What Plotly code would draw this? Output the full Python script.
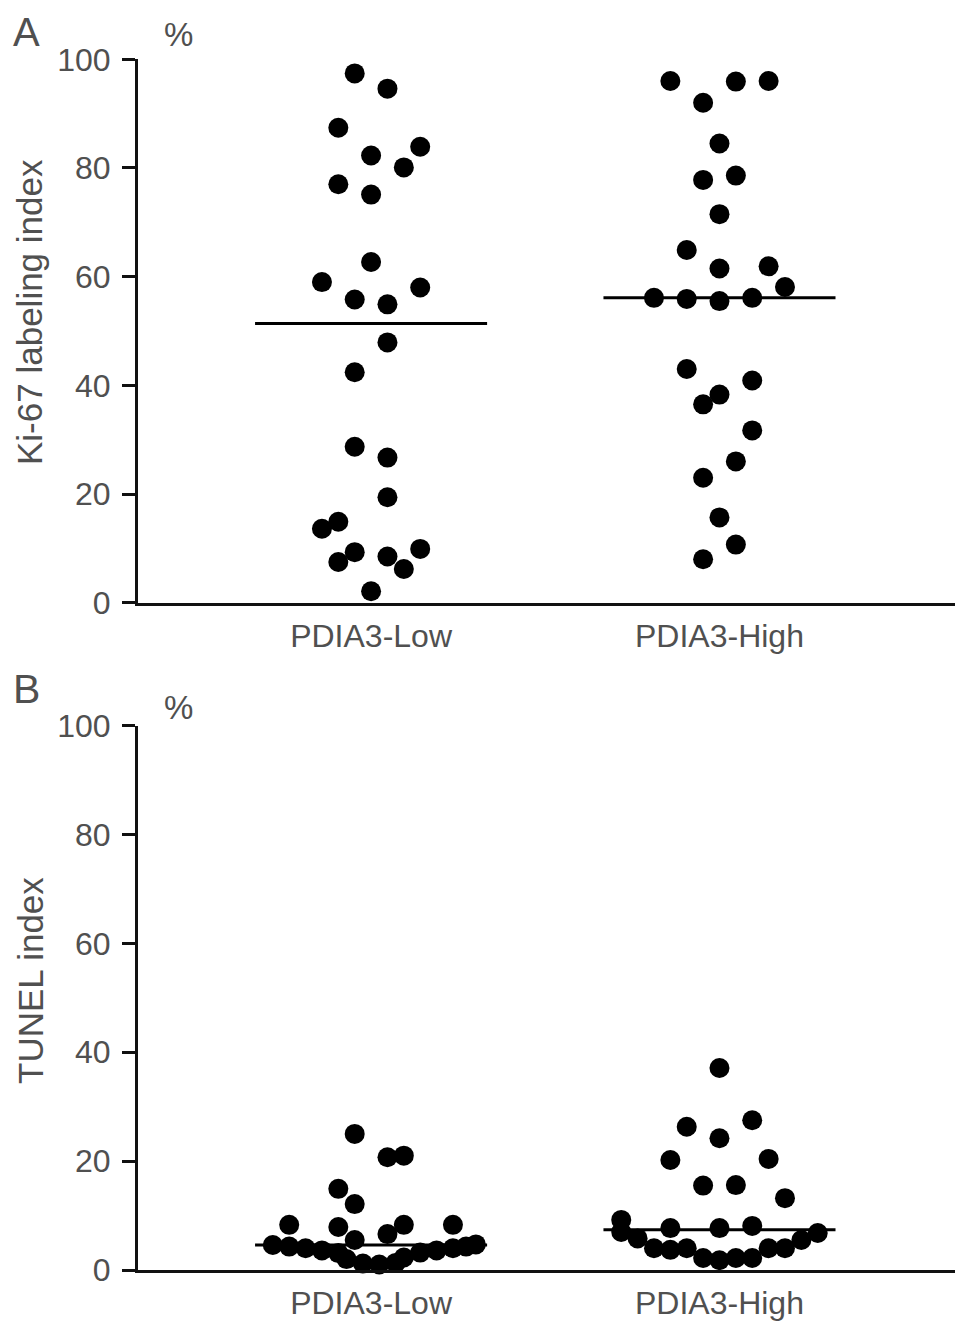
import plotly.graph_objects as go

# group labels
groups = ["PDIA3-Low", "PDIA3-High"]

# Panel A: Ki-67 labeling index (%)
ki67_low = [97.4, 94.6, 87.4, 82.3, 83.9, 80.1, 77.0, 75.1, 62.7, 59.0, 55.8, 54.9, 58.0,
            47.9, 42.4, 28.7, 26.7, 19.4, 14.9, 13.6, 9.3, 7.5, 8.5, 9.9, 6.2, 2.1]
ki67_low_jit = [-1, 1, -2, 0, 3, 2, -2, 0, 0, -3, -1, 1, 3,
                1, -1, -1, 1, 1, -2, -3, -1, -2, 1, 3, 2, 0]
ki67_high = [96.0, 95.9, 96.0, 92.0, 84.5, 77.8, 78.6, 71.5, 64.9, 61.5, 61.9, 58.1, 56.1,
             55.9, 55.5, 56.1, 43.0, 40.9, 38.3, 36.5, 31.7, 26.0, 23.0, 15.7, 10.7, 8.0]
ki67_high_jit = [-3, 1, 3, -1, 0, -1, 1, 0, -2, 0, 3, 4, -4,
                 -2, 0, 2, -2, 2, 0, -1, 2, 1, -1, 0, 1, -1]
ki67_median = [51.4, 56.1]

# Panel B: TUNEL index (%)
tunel_low = [25.0, 20.7, 21.0, 14.9, 12.1, 8.3, 7.9, 8.3, 8.3, 6.6, 5.5,
             4.6, 4.3, 4.0, 3.6, 3.1, 2.0, 1.2, 1.0, 1.3, 2.3, 3.2, 3.6, 4.0, 4.3, 4.7]
tunel_low_jit = [-1, 1, 2, -2, -1, -5, -2, 2, 5, 1, -1,
                 -6, -5, -4, -3, -2, -1.5, -0.5, 0.5, 1.5, 2, 3, 4, 5, 5.8, 6.4]
tunel_high = [37.1, 26.3, 27.5, 24.2, 20.2, 20.4, 15.5, 15.6, 13.2, 9.2, 7.7, 7.7, 8.1,
              7.0, 5.8, 4.0, 3.7, 4.0, 2.2, 1.8, 2.2, 2.2, 4.0, 4.0, 5.5, 6.8]
tunel_high_jit = [0, -2, 2, 0, -3, 3, -1, 1, 4, -6, -3, 0, 2,
                  -6, -5, -4, -3, -2, -1, 0, 1, 2, 3, 4, 5, 6]
tunel_median = [4.6, 7.4]

W, H = 969, 1335
OFF = 8       # the page body adds 8px, shift everything back by that
JIT = 0.047   # spacing of one dot step, in category units
HALF = 0.333  # half length of the median bar
TEXT = "#505050"
FONT = "Liberation Sans, Arial, sans-serif"


def px_x(p):
    return (p - OFF) / W


def px_y(p):
    return 1 - (p - OFF) / H


fig = go.Figure()

panels = [
    (ki67_low, ki67_low_jit, ki67_high, ki67_high_jit, ki67_median, "x", "y"),
    (tunel_low, tunel_low_jit, tunel_high, tunel_high_jit, tunel_median, "x2", "y2"),
]
for lo, lo_j, hi, hi_j, med, xa, ya in panels:
    for i, (vals, jit) in enumerate([(lo, lo_j), (hi, hi_j)]):
        fig.add_trace(go.Scatter(
            x=[i + j * JIT for j in jit], y=vals, mode="markers",
            marker=dict(size=20, color="black"),
            xaxis=xa, yaxis=ya, cliponaxis=False, showlegend=False))
        fig.add_trace(go.Scatter(
            x=[i - HALF, i + HALF], y=[med[i], med[i]], mode="lines",
            line=dict(color="black", width=3),
            xaxis=xa, yaxis=ya, cliponaxis=False, showlegend=False))

xcommon = dict(range=[-0.669, 1.676], tickvals=[0, 1], ticktext=groups,
               showline=True, linecolor="#111", linewidth=3, ticks="",
               showgrid=False, zeroline=False, ticklabelstandoff=3,
               automargin=False,
               tickfont=dict(size=32, color=TEXT, family=FONT))
ycommon = dict(range=[0, 100], tickvals=[0, 20, 40, 60, 80, 100],
               showline=True, linecolor="#111", linewidth=3,
               ticks="outside", ticklen=13, tickwidth=3, tickcolor="#111",
               showgrid=False, zeroline=False, ticklabelstandoff=5,
               automargin=False,
               tickfont=dict(size=32, color=TEXT, family=FONT))

fig.update_layout(
    width=W, height=H,
    margin=dict(l=0, r=0, t=0, b=0, autoexpand=False),
    plot_bgcolor="white", paper_bgcolor="white",
    font=dict(family=FONT, color=TEXT),
    xaxis=dict(domain=[px_x(138), px_x(955)], anchor="y", **xcommon),
    yaxis=dict(domain=[px_y(602.7), px_y(59.3)], anchor="x", **ycommon),
    xaxis2=dict(domain=[px_x(138), px_x(955)], anchor="y2", **xcommon),
    yaxis2=dict(domain=[px_y(1270), px_y(725.5)], anchor="x2", **ycommon),
)

# panel letter A sits right at the top edge, so pin it to the top of the paper
fig.add_annotation(text="A", xref="paper", yref="paper", x=px_x(26), y=1,
                   xanchor="center", yanchor="top", showarrow=False,
                   font=dict(size=40, color=TEXT, family=FONT))

# other letters, % marks and the y titles
notes = [
    ("%", 178, 35, 33, 0),
    ("B", 26, 689, 41, 0), ("%", 178, 708, 33, 0),
    ("Ki-67 labeling index", 30, 312, 35, -90),
    ("TUNEL index", 30, 981, 35, -90),
]
for txt, x0, y0, size, ang in notes:
    fig.add_annotation(text=txt, xref="paper", yref="paper",
                       x=px_x(x0), y=px_y(y0),
                       xanchor="center", yanchor="middle", showarrow=False,
                       textangle=ang, font=dict(size=size, color=TEXT, family=FONT))

fig.write_html("out.html")
